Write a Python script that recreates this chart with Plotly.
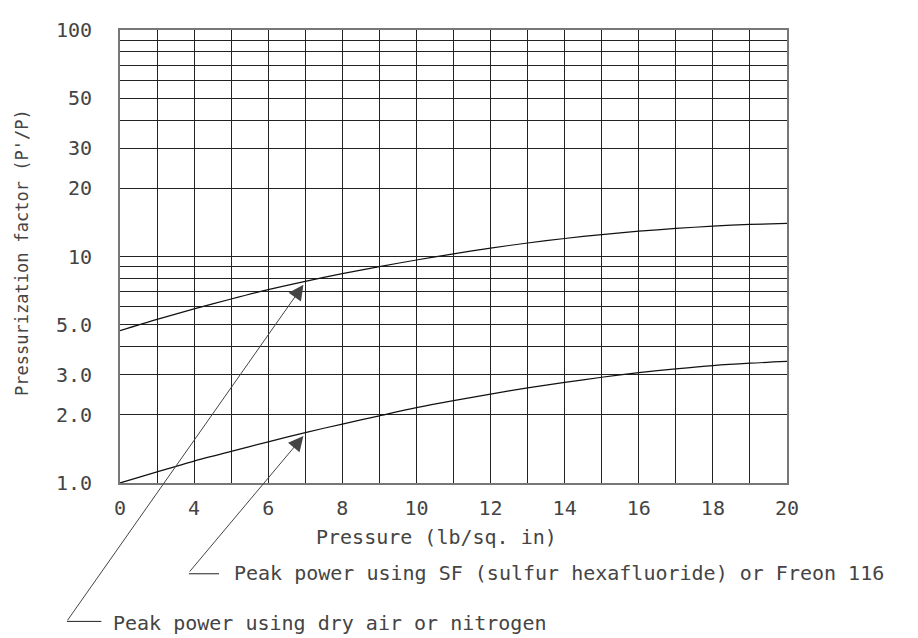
import math
import plotly.graph_objects as go

# ---- data ----
pressure = [2, 3, 4, 5, 6, 7, 8, 9, 10, 11, 12, 13, 14, 15, 16, 17, 18, 19, 20]
factor_air = [4.71, 5.28, 5.87, 6.49, 7.14, 7.77, 8.40, 9.02, 9.65, 10.27,
              10.89, 11.47, 12.01, 12.50, 12.93, 13.30, 13.62, 13.85, 14.00]
factor_sf6 = [1.00, 1.12, 1.25, 1.38, 1.52, 1.67, 1.82, 1.98, 2.15, 2.31,
              2.47, 2.63, 2.78, 2.93, 3.07, 3.19, 3.30, 3.38, 3.44]

x_tickvals = [2, 4, 6, 8, 10, 12, 14, 16, 18, 20]
x_ticktext = ["0", "4", "6", "8", "10", "12", "14", "16", "18", "20"]
y_tickvals = [1, 2, 3, 5, 10, 20, 30, 50, 100]
y_ticktext = ["1.0", "2.0", "3.0", "5.0", "10", "20", "30", "50", "100"]
y_gridvals = [1, 2, 3, 4, 5, 6, 7, 8, 9, 10, 20, 30, 40, 50, 60, 70, 80, 90, 100]

label_air = "Peak power using dry air or nitrogen"
label_sf6 = "Peak power using SF (sulfur hexafluoride) or Freon 116"
arrow_at = 7  # pressure value the leaders point at

FONT = "DejaVu Sans Mono"
TXT = "#444444"

fig = go.Figure()
for ys in (factor_air, factor_sf6):
    fig.add_trace(go.Scatter(x=pressure, y=ys, mode="lines",
                             line=dict(color="#111111", width=1.2, shape="spline", smoothing=0.8),
                             hoverinfo="skip", showlegend=False))

i = pressure.index(arrow_at)
# leaders with arrowheads (tail in pixels relative to the tip); log axis -> log10 position
for ys, ax, ay in ((factor_air, -237, 337), (factor_sf6, -115, 137)):
    fig.add_annotation(x=arrow_at - 0.05, y=math.log10(ys[i] * 0.965), xref="x", yref="y", text="",
                       showarrow=True, ax=ax, ay=ay, axref="pixel", ayref="pixel",
                       arrowhead=2, arrowsize=3, arrowwidth=1, arrowcolor="#444444",
                       standoff=0)

# horizontal feet of the leaders
fig.add_shape(type="line", xref="paper", yref="paper",
              x0=-0.0795, x1=-0.028, y0=-0.3055, y1=-0.3055, line=dict(color="#222", width=1))
fig.add_shape(type="line", xref="paper", yref="paper",
              x0=0.1034, x1=0.1485, y0=-0.2004, y1=-0.2004, line=dict(color="#222", width=1))

fig.add_annotation(x=-0.0135, y=-0.3085, xref="paper", yref="paper", text=label_air,
                   showarrow=False, xanchor="left", yanchor="middle",
                   font=dict(family=FONT, size=20, color=TXT))
fig.add_annotation(x=0.1679, y=-0.199, xref="paper", yref="paper", text=label_sf6,
                   showarrow=False, xanchor="left", yanchor="middle",
                   font=dict(family=FONT, size=20, color=TXT))

# axis titles
fig.add_annotation(x=0.474, y=-0.119, xref="paper", yref="paper", text="Pressure (lb/sq. in)",
                   showarrow=False, xanchor="center", yanchor="middle",
                   font=dict(family=FONT, size=20, color=TXT))
fig.add_annotation(x=-0.147, y=0.51, xref="paper", yref="paper",
                   text="Pressurization factor (P'/P)", textangle=-90,
                   showarrow=False, xanchor="center", yanchor="middle",
                   font=dict(family=FONT, size=17, color=TXT))

fig.update_xaxes(range=[2, 20], tickmode="array", tickvals=x_tickvals, ticktext=x_ticktext,
                 showgrid=True, gridcolor="#222222", gridwidth=1,
                 minor=dict(dtick=1, tick0=2, showgrid=True, gridcolor="#222222", gridwidth=1),
                 ticks="outside", ticklen=6, tickcolor="rgba(0,0,0,0)",
                 tickfont=dict(family=FONT, size=20, color=TXT),
                 showline=True, linecolor="#777777", linewidth=2, mirror=True, zeroline=False)
fig.update_yaxes(type="log", range=[0, 2], tickmode="array", tickvals=y_tickvals, ticktext=y_ticktext,
                 showgrid=True, gridcolor="#222222", gridwidth=1,
                 minor=dict(tickmode="array", tickvals=y_gridvals, showgrid=True,
                            gridcolor="#222222", gridwidth=1),
                 ticks="outside", ticklen=22, tickcolor="rgba(0,0,0,0)",
                 tickfont=dict(family=FONT, size=20, color=TXT),
                 showline=True, linecolor="#777777", linewidth=2, mirror=True, zeroline=False)

fig.update_layout(width=918, height=638, autosize=False,
                  margin=dict(l=120, r=131, t=30, b=155),
                  plot_bgcolor="white", paper_bgcolor="white",
                  font=dict(family=FONT, color=TXT))

fig.write_html("out.html")
